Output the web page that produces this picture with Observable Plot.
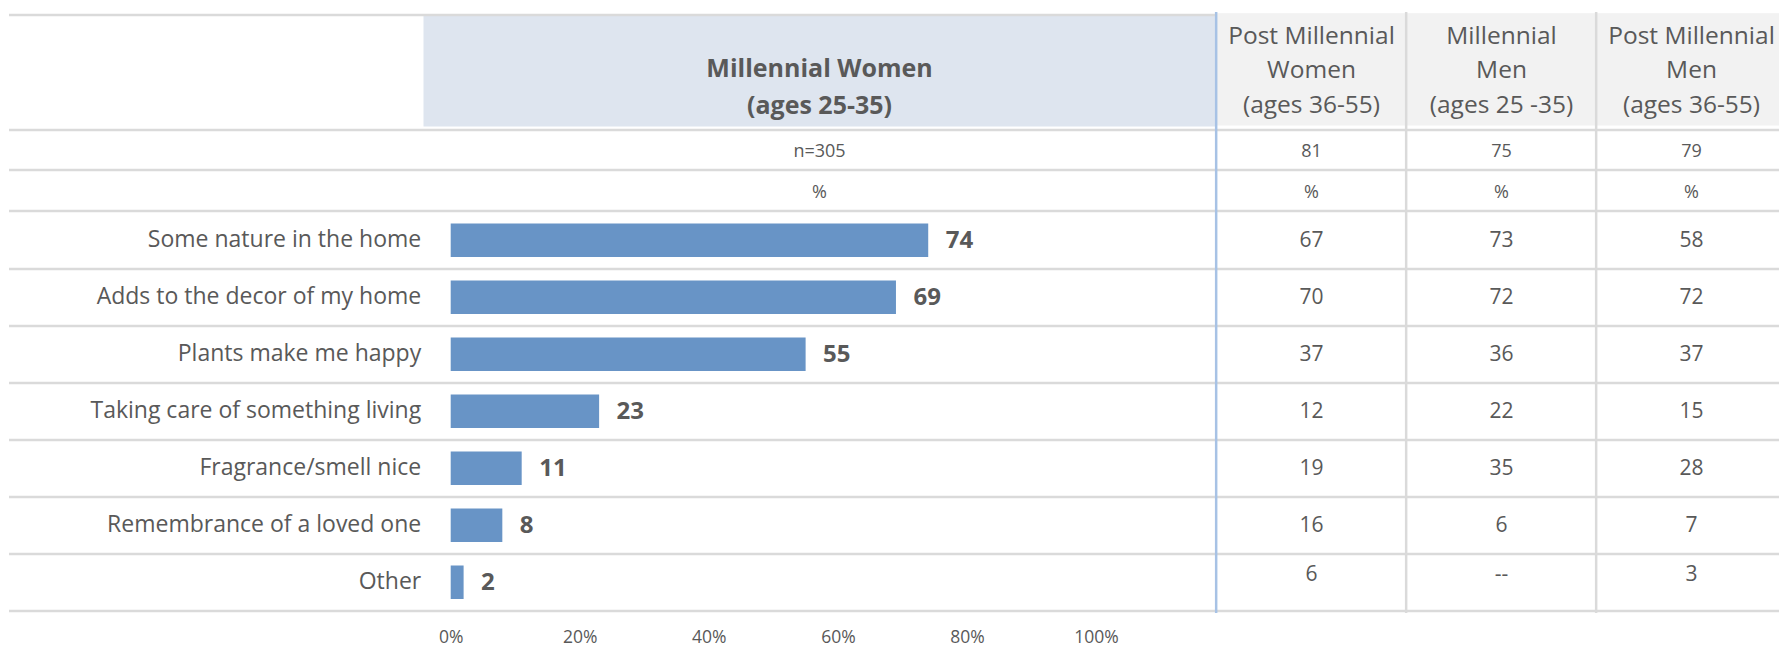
<!DOCTYPE html>
<html>
<head>
<meta charset="utf-8">
<script src="https://cdn.jsdelivr.net/npm/d3@7"></script>
<script src="https://cdn.jsdelivr.net/npm/@observablehq/plot@0.6"></script>
<style>
html, body { margin: 0; padding: 0; background: #fff; }
#chart { position: relative; width: 1779px; height: 647px; overflow: hidden; }
#chart svg { position: absolute; left: 0; top: 0; }
</style>
</head>
<body>
<div id="chart"></div>
<script>
// ---------- data ----------
const categories = [
  "Some nature in the home",
  "Adds to the decor of my home",
  "Plants make me happy",
  "Taking care of something living",
  "Fragrance/smell nice",
  "Remembrance of a loved one",
  "Other"
];
const millennialWomen = [74, 69, 55, 23, 11, 8, 2];
const mainHeader = "Millennial Women\n(ages 25-35)";
const mainN = "n=305";
const groups = ["Post Millennial Women", "Millennial Men", "Post Millennial Men"];
const groupHeaders = ["Post Millennial\nWomen\n(ages 36-55)", "Millennial\nMen\n(ages 25 -35)", "Post Millennial\nMen\n(ages 36-55)"];
const groupN = [81, 75, 79];
const postMillennialWomen = [67, 70, 37, 12, 19, 16, 6];
const millennialMen = [73, 72, 36, 22, 35, 6, null];
const postMillennialMen = [58, 72, 37, 15, 28, 7, 3];
const axisTicks = [0, 20, 40, 60, 80, 100];

// ---------- layout & style ----------
const W = 1779, H = 647;
const LEFT = 9, TOP = 12;
const ROWS_TOP = 208, ROWS_BOTTOM = 613;
const HEADER_BOTTOM = 127, NROW_BOTTOM = 167;
const BAR_RANGE = [450.7, 1096];
const MW_LEFT = 423, MW_RIGHT = 1215;
const TABLE_RANGE = [1215, 1787];
const FONT = "'Open Sans', sans-serif";
const TEXT = "#595959";
const GRID = "#dadada";
const BAR = "#6894c6";
const BLUE_LINE = "#a7c2e5";
const MW_BG = "#dee5ef";
const HEAD_BG = "#f2f2f2";

const bw = (ROWS_BOTTOM - ROWS_TOP) / categories.length;
const c0 = ROWS_TOP + bw / 2;
const mwCenter = (MW_LEFT + MW_RIGHT) / 2;

const barData = categories.map((c, i) => ({category: c, value: millennialWomen[i]}));
const tableCols = [postMillennialWomen, millennialMen, postMillennialMen];
const tableData = [];
groups.forEach((g, gi) => categories.forEach((c, ci) => tableData.push({group: g, category: c, value: tableCols[gi][ci]})));
const lastCat = categories[categories.length - 1];
const fmt = d => d.value == null ? "--" : String(d.value);

const common = {
  width: W, height: H,
  marginLeft: LEFT, marginRight: 0, marginTop: TOP, marginBottom: H - ROWS_BOTTOM
};

// ---------- chart A: bars, grid, main header ----------
const chartA = Plot.plot({
  ...common,
  style: {fontFamily: FONT, color: TEXT, background: "white"},
  x: {domain: [0, 100], range: BAR_RANGE, axis: null},
  y: {type: "band", domain: categories, range: [ROWS_TOP, ROWS_BOTTOM], padding: 0, axis: null},
  marks: [
    Plot.frame({fill: MW_BG, stroke: "none", insetLeft: MW_LEFT - LEFT, insetRight: W - MW_RIGHT, insetTop: 1.5, insetBottom: ROWS_BOTTOM - HEADER_BOTTOM + 1}),
    // horizontal lines: table top, header bottom, n-row bottom, %-row bottom
    ...[TOP, HEADER_BOTTOM, NROW_BOTTOM, ROWS_TOP].map(yy =>
      Plot.ruleY([categories[0]], {y: d => d, dy: yy - c0, stroke: GRID, strokeWidth: 2.5})),
    Plot.ruleY(categories, {y: d => d, dy: bw / 2, stroke: GRID, strokeWidth: 2.5}),
    Plot.barX(barData, {x: "value", y: "category", fill: BAR, insetTop: 12.5, insetBottom: 11}),
    Plot.text(barData, {x: "value", y: "category", text: d => String(d.value), dx: 17, textAnchor: "start", fontWeight: "bold", fontSize: 24, fill: TEXT}),
    Plot.text(barData, {x: () => 0, y: "category", text: "category", dx: -30, textAnchor: "end", fontSize: 23, fill: TEXT}),
    Plot.text([mainHeader], {frameAnchor: "top-left", dx: mwCenter - LEFT, dy: 83 - TOP, text: d => d, textAnchor: "middle", lineAnchor: "middle", lineHeight: 1.5, fontWeight: "bold", fontSize: 25, fill: TEXT}),
    Plot.text([mainN], {frameAnchor: "top-left", dx: mwCenter - LEFT, dy: 143.5 - TOP, text: d => d, textAnchor: "middle", fontSize: 18, fill: TEXT}),
    Plot.text(["%"], {frameAnchor: "top-left", dx: mwCenter - LEFT, dy: 184.5 - TOP, text: d => d, textAnchor: "middle", fontSize: 18, fill: TEXT}),
    Plot.axisX({ticks: axisTicks, tickFormat: d => d + "%", tickSize: 0, tickPadding: 17, fontSize: 17.5, color: TEXT, label: null})
  ]
});

// ---------- chart B: comparison table ----------
const chartB = Plot.plot({
  ...common,
  style: {fontFamily: FONT, color: TEXT, background: "transparent"},
  x: {type: "band", domain: groups, range: TABLE_RANGE, padding: 0, axis: null},
  y: {type: "band", domain: categories, range: [ROWS_TOP, ROWS_BOTTOM], padding: 0, axis: null},
  marks: [
    Plot.cell(groups, {x: d => d, fill: HEAD_BG, insetTop: 1.5, insetBottom: ROWS_BOTTOM - HEADER_BOTTOM + 1.5}),
    Plot.ruleX(groups, {x: d => d, dx: -(TABLE_RANGE[1] - TABLE_RANGE[0]) / groups.length / 2,
      stroke: (d, i) => i === 0 ? BLUE_LINE : GRID, strokeWidth: 2.5}),
    Plot.text(groups, {x: d => d, frameAnchor: "top", dy: 66.5 - TOP, text: (d, i) => groupHeaders[i], lineAnchor: "middle", lineHeight: 1.41, fontSize: 24.5, fill: TEXT}),
    Plot.text(groups, {x: d => d, frameAnchor: "top", dy: 143.5 - TOP, text: (d, i) => String(groupN[i]), fontSize: 18, fill: TEXT}),
    Plot.text(groups, {x: d => d, frameAnchor: "top", dy: 184.5 - TOP, text: () => "%", fontSize: 18, fill: TEXT}),
    Plot.text(tableData.filter(d => d.category !== lastCat), {x: "group", y: "category", text: fmt, fontSize: 21, fill: TEXT}),
    Plot.text(tableData.filter(d => d.category === lastCat), {x: "group", y: "category", dy: -8, text: fmt, fontSize: 21, fill: TEXT})
  ]
});

const root = document.getElementById("chart");
root.appendChild(chartA);
root.appendChild(chartB);
</script>
</body>
</html>
